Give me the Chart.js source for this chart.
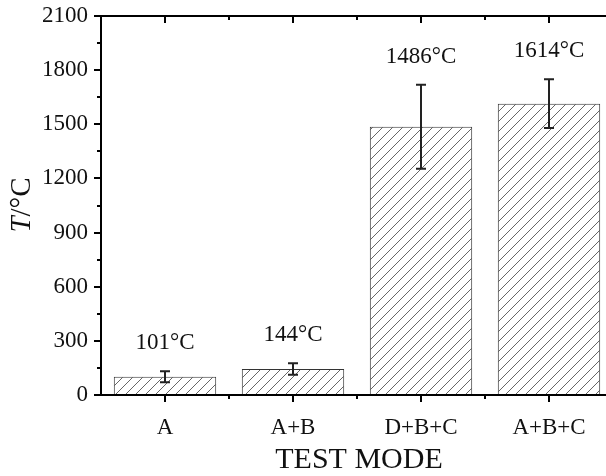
<!DOCTYPE html>
<html>
<head>
<meta charset="utf-8">
<script src="https://cdn.jsdelivr.net/npm/chart.js@4"></script>
<style>
  html, body { margin: 0; padding: 0; background: #fff; overflow: hidden; }
  canvas { display: block; }
</style>
</head>
<body>
<canvas id="chart" width="606" height="476"></canvas>
<script>
// data
const modes = ['A', 'A+B', 'D+B+C', 'A+B+C'];
const temps = [101, 144, 1486, 1614];
const errors = [30, 32, 233, 135];
const tempLabels = ['101°C', '144°C', '1486°C', '1614°C'];
const yTicks = [0, 300, 600, 900, 1200, 1500, 1800, 2100];

const serif = '"Liberation Serif", "Times New Roman", serif';

function makeHatch(ctx) {
  const c = document.createElement('canvas');
  c.width = 10;
  c.height = 10;
  const g = c.getContext('2d');
  g.fillStyle = '#fff';
  g.fillRect(0, 0, 10, 10);
  g.strokeStyle = '#666';
  g.lineWidth = 1;
  g.beginPath();
  g.moveTo(0, 10); g.lineTo(10, 0);
  g.moveTo(-1, 1); g.lineTo(1, -1);
  g.moveTo(9, 11); g.lineTo(11, 9);
  g.stroke();
  return ctx.createPattern(c, 'repeat');
}

// the source figure is cropped: its right frame sits ~7px past the image edge
const widenPlot = {
  id: 'widenPlot',
  afterLayout(chart) {
    const x = chart.scales.x;
    x.right = chart.width + 7;
    x.width = x.right - x.left;
    x.configure();
    chart.chartArea.right = x.right;
    chart.chartArea.width = x.width;
  }
};

// error bars + value labels on top of each bar
const errorBars = {
  id: 'errorBars',
  afterDatasetsDraw(chart) {
    const ctx = chart.ctx;
    const y = chart.scales.y;
    const meta = chart.getDatasetMeta(0);
    ctx.save();
    ctx.strokeStyle = '#222';
    ctx.lineWidth = 2;
    meta.data.forEach((bar, i) => {
      const top = y.getPixelForValue(temps[i] + errors[i]);
      const bot = y.getPixelForValue(temps[i] - errors[i]);
      ctx.beginPath();
      ctx.moveTo(bar.x, top); ctx.lineTo(bar.x, bot);
      ctx.moveTo(bar.x - 5, top); ctx.lineTo(bar.x + 5, top);
      ctx.moveTo(bar.x - 5, bot); ctx.lineTo(bar.x + 5, bot);
      ctx.stroke();
      ctx.fillStyle = '#111';
      ctx.font = '23px ' + serif;
      ctx.textAlign = 'center';
      ctx.textBaseline = 'middle';
      ctx.fillText(tempLabels[i], bar.x, top - 28);
    });
    ctx.restore();
  }
};

// plot frame, in/out ticks, axis titles
const frame = {
  id: 'frame',
  afterDraw(chart) {
    const ctx = chart.ctx;
    const a = chart.chartArea;
    const x = chart.scales.x;
    const y = chart.scales.y;
    ctx.save();
    ctx.strokeStyle = '#000';
    ctx.lineWidth = 2;
    ctx.beginPath();
    ctx.rect(a.left, a.top, a.right - a.left, a.bottom - a.top);
    ctx.stroke();

    ctx.beginPath();
    for (let v = 0; v <= 2100; v += 150) {
      const p = Math.round(y.getPixelForValue(v));
      const len = v % 300 === 0 ? 7 : 4;
      ctx.moveTo(a.left - len, p); ctx.lineTo(a.left, p);
      ctx.moveTo(a.right, p); ctx.lineTo(a.right - len, p);
    }
    modes.forEach((m, i) => {
      const p = Math.round(x.getPixelForValue(i));
      ctx.moveTo(p, a.bottom); ctx.lineTo(p, a.bottom + 7);
      ctx.moveTo(p, a.top); ctx.lineTo(p, a.top + 7);
      if (i > 0) {
        const q = Math.round(x.getPixelForValue(i - 0.5));
        ctx.moveTo(q, a.bottom); ctx.lineTo(q, a.bottom + 4);
        ctx.moveTo(q, a.top); ctx.lineTo(q, a.top + 4);
      }
    });
    ctx.stroke();

    ctx.fillStyle = '#111';
    ctx.textBaseline = 'middle';
    ctx.textAlign = 'center';
    ctx.font = '30px ' + serif;
    ctx.fillText('TEST MODE', (a.left + a.right) / 2 + 2, 460);

    // y title: italic T, then /°C
    ctx.translate(22, 205);
    ctx.rotate(-Math.PI / 2);
    ctx.textAlign = 'left';
    ctx.font = 'italic 29px ' + serif;
    const wT = ctx.measureText('T').width;
    ctx.font = '29px ' + serif;
    const wR = ctx.measureText('/°C').width;
    const start = -(wT + wR) / 2;
    ctx.font = 'italic 29px ' + serif;
    ctx.fillText('T', start, 0);
    ctx.font = '29px ' + serif;
    ctx.fillText('/°C', start + wT, 0);
    ctx.restore();
  }
};

const canvas = document.getElementById('chart');
const ctx = canvas.getContext('2d');

new Chart(ctx, {
  type: 'bar',
  data: {
    labels: modes,
    datasets: [{
      data: temps,
      backgroundColor: makeHatch(ctx),
      borderColor: '#333',
      borderWidth: 1,
      barPercentage: 0.8,
      categoryPercentage: 1
    }]
  },
  options: {
    responsive: false,
    devicePixelRatio: 1,
    animation: false,
    layout: { padding: { left: 0, top: 16, right: 0, bottom: 0 } },
    plugins: {
      legend: { display: false },
      tooltip: { enabled: false }
    },
    scales: {
      x: {
        grid: { display: false, drawTicks: false },
        border: { display: false },
        ticks: {
          color: '#111',
          padding: 19,
          maxRotation: 0,
          font: { family: serif, size: 23 }
        },
        afterFit(scale) {
          scale.height = 81;
          scale.paddingLeft = 0;
          scale.paddingRight = 0;
        }
      },
      y: {
        min: 0,
        max: 2100,
        grid: { display: false, drawTicks: false },
        border: { display: false },
        afterBuildTicks(scale) { scale.ticks = yTicks.map(v => ({ value: v })); },
        ticks: {
          color: '#111',
          padding: 13,
          font: { family: serif, size: 23 },
          callback: v => String(v)
        },
        afterFit(scale) {
          scale.width = 101;
          scale.paddingTop = 0;
          scale.paddingBottom = 0;
        }
      }
    }
  },
  plugins: [widenPlot, errorBars, frame]
});
</script>
</body>
</html>
